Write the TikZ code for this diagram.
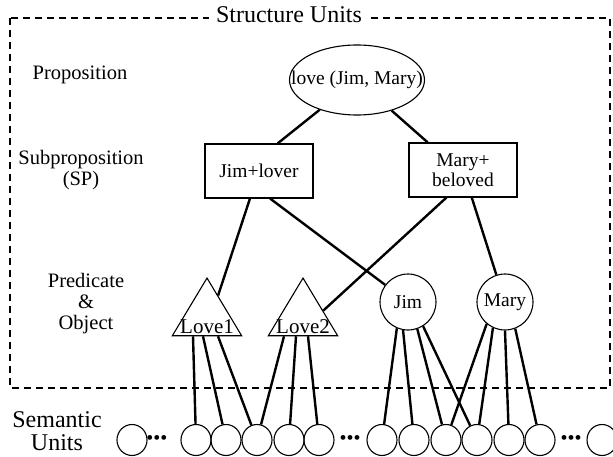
\documentclass[tikz,border=0pt]{standalone}
\usepackage{fontspec}
\setmainfont{Liberation Serif}
\usetikzlibrary{shapes.geometric,calc}

\begin{document}
\begin{tikzpicture}[x=1pt, y=-1pt,
  lab/.style={align=center, font=\fontsize{20.5}{21}\selectfont},
  big/.style={align=center, font=\fontsize{24}{23}\selectfont},
  prop/.style={draw, line width=1.1pt, ellipse, minimum width=135pt, minimum height=70pt, inner sep=0pt, font=\fontsize{19.5}{21}\selectfont},
  sp/.style={draw, line width=1.1pt, rectangle, minimum width=108pt, minimum height=54pt, inner sep=0pt, align=center, font=\fontsize{19.5}{20}\selectfont},
  tri/.style={draw, line width=1.1pt, isosceles triangle, isosceles triangle apex angle=62, shape border rotate=90, inner sep=0pt, text height=11pt, text depth=2pt, font=\fontsize{21}{21}\selectfont},
  obj/.style={draw, line width=1.1pt, circle, minimum size=56pt, inner sep=0pt, font=\fontsize{19.5}{20}\selectfont},
  unit/.style={draw, line width=1.1pt, ellipse, minimum width=30pt, minimum height=31pt, inner sep=0pt},
  dots/.style={inner sep=0pt, font=\fontsize{20}{20}\selectfont},
  link/.style={line width=2.4pt},
  border/.style={line width=1.1pt, dash pattern=on 7pt off 5pt}
]
  \useasboundingbox (0,0) rectangle (613,457);
  % structure units frame
  \draw[border] (10,18) rectangle (610,388);
  \node[big, fill=white, inner xsep=7pt, inner ysep=3pt] (title) at (289,15) {Structure Units};

  % level labels
  \node[lab] (lproposition) at (80,75) {Proposition};
  \node[lab] (lsub) at (81,170) {Subproposition\\(SP)};
  \node[lab] (lpred) at (86,304) {Predicate\\\&\\Object};
  \node[big] (lsem) at (57,431) {Semantic\\Units};

  % structure nodes
  \node[prop] (prop) at (357,80) {\makebox[0pt]{love (Jim, Mary)}};
  \node[sp] (jl) at (259,171) {Jim+lover};
  \node[sp] (mb) at (463,170) {Mary+\\beloved};
  \node[tri, anchor=apex] (love1) at (207,277) {Love1};
  \node[tri, anchor=apex] (love2) at (303,277) {Love2};
  \node[obj] (jim) at (408,302) {Jim};
  \node[obj] (mary) at (505,302) {Mary};

  % semantic units
  \node[unit] (u1) at (132,440) {};
  \node[dots] (d1) at (157,440) {\textbullet\textbullet\textbullet};
  \node[unit] (u2) at (196,440) {};
  \node[unit] (u3) at (226,440) {};
  \node[unit] (u4) at (257,440) {};
  \node[unit] (u5) at (289,440) {};
  \node[unit] (u6) at (319,440) {};
  \node[dots] (d2) at (350,440) {\textbullet\textbullet\textbullet};
  \node[unit] (u7) at (382,440) {};
  \node[unit] (u8) at (414,440) {};
  \node[unit] (u9) at (446,440) {};
  \node[unit] (u10) at (477,440) {};
  \node[unit] (u11) at (509,440) {};
  \node[unit] (u12) at (540,440) {};
  \node[dots] (d3) at (571,440) {\textbullet\textbullet\textbullet};
  \node[unit] (u13) at (602,440) {};

  % links
  \draw[link] (prop) -- (jl.56); \draw[link] (prop) -- (mb.142);
  \draw[link] (jl) -- (love1); \draw[link] (jl.-68) -- (jim);
  \draw[link] (mb.-121) -- (love2); \draw[link] (mb) -- (mary);
  \draw[link] ($(love1.lower side)+(-14,0)$) -- (u2);
  \draw[link] ($(love1.lower side)+(-4,0)$) -- (u3);
  \draw[link] ($(love1.lower side)+(11,0)$) -- (u4);
  \draw[link] ($(love2.lower side)+(-19,0)$) -- (u4);
  \draw[link] ($(love2.lower side)+(-7,0)$) -- (u5);
  \draw[link] ($(love2.lower side)+(5,0)$) -- (u6);
  \draw[link] (jim.-113) -- (u7); \draw[link] (jim.-100) -- (u8);
  \draw[link] (jim.-71) -- (u9); \draw[link] (jim.-58) -- (u10);
  \draw[link] (mary.-130) -- (u9); \draw[link] (mary.-115) -- (u10);
  \draw[link] (mary.-90) -- (u11); \draw[link] (mary.-69) -- (u12);
\end{tikzpicture}
\end{document}
